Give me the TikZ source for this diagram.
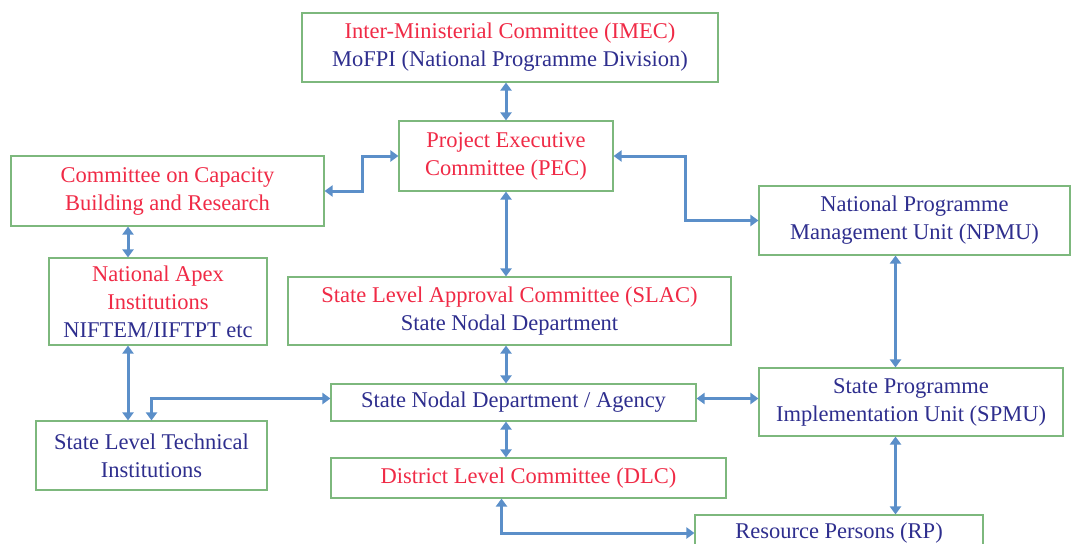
\documentclass[tikz,border=0pt]{standalone}
\usepackage{fontspec}
\setmainfont{Liberation Serif}
\usetikzlibrary{arrows.meta}
\definecolor{boxgreen}{HTML}{7DB87D}
\definecolor{linkblue}{HTML}{5B8FC9}
\definecolor{headred}{HTML}{F02A46}
\definecolor{bodyblue}{HTML}{2E2E8E}
\tikzset{
  unit/.style={draw=boxgreen, line width=1.1pt, fill=white, align=center,
    inner sep=0pt, text=bodyblue, font=\fontsize{22.5}{28}\selectfont},
  link/.style={linkblue, line width=3pt,
    {Triangle[length=8pt,width=11pt]}-{Triangle[length=8pt,width=11pt]}},
}
\newcommand{\hd}[1]{\textcolor{headred}{#1}}

\begin{document}
\begin{tikzpicture}[x=1pt, y=-1pt]
  \useasboundingbox (0,0) rectangle (1075,543);
  \clip (0,0) rectangle (1075,543);

  % national level
  \node [unit, minimum width=416pt, minimum height=69pt] (imec) at (510,47.5)
    {\hd{Inter-Ministerial Committee (IMEC)}\\MoFPI (National Programme Division)};
  \node [unit, minimum width=214pt, minimum height=70pt] (pec) at (506,156)
    {\hd{Project Executive}\\\hd{Committee (PEC)}};
  \node [unit, minimum width=313pt, minimum height=70pt] (ccbr) at (167.5,191)
    {\hd{Committee on Capacity}\\\hd{Building and Research}};
  \node [unit, minimum width=218pt, minimum height=87pt] (apex) at (158,301.5)
    {\hd{National Apex}\\\hd{Institutions}\\NIFTEM/IIFTPT etc};
  \node [unit, minimum width=311pt, minimum height=69pt] (npmu) at (914.5,220.5)
    {National Programme\\Management Unit (NPMU)};

  % state level
  \node [unit, minimum width=443pt, minimum height=68pt] (slac) at (509.5,311)
    {\hd{State Level Approval Committee (SLAC)}\\State Nodal Department};
  \node [unit, minimum width=365pt, minimum height=37pt] (nodal) at (513.5,402.5)
    {State Nodal Department / Agency};
  \node [unit, minimum width=304pt, minimum height=68pt] (spmu) at (911,402)
    {State Programme\\Implementation Unit (SPMU)};
  \node [unit, minimum width=231pt, minimum height=69pt] (slti) at (151.5,455.5)
    {State Level Technical\\Institutions};
  \node [unit, minimum width=395pt, minimum height=40pt] (dlc) at (528.5,478)
    {\hd{District Level Committee (DLC)}};
  \node [unit, minimum width=288pt, minimum height=36pt] (rp) at (839,533)
    {Resource Persons (RP)};

  % links
  \draw [link] (imec.south -| pec.north) -- (pec.north);
  \draw [link] (ccbr.east) -- ++(38,0) |- (pec.west);
  \draw [link] (pec.east) -- ++(72,0) |- (npmu.west);
  \draw [link] (pec.south) -- (pec.south |- slac.north);
  \draw [link] ([xshift=-30pt]apex.north) -- ([xshift=-30pt]apex.north |- ccbr.south);
  \draw [link] ([xshift=-30pt]apex.south) -- ([xshift=-30pt]apex.south |- slti.north);
  \draw [link] ([yshift=4pt]nodal.west) -| (slti.north);
  \draw [link] (pec.south |- slac.south) -- (pec.south |- nodal.north);
  \draw [link] (pec.south |- nodal.south) -- (pec.south |- dlc.north);
  \draw [link] ([xshift=-19pt]npmu.south) -- ([xshift=-19pt]npmu.south |- spmu.north);
  \draw [link] ([yshift=4pt]nodal.east) -- ([yshift=4pt]nodal.east -| spmu.west);
  \draw [link] ([xshift=-19pt]npmu.south |- spmu.south) -- ([xshift=-19pt]npmu.south |- rp.north);
  \draw [link] ([xshift=-27pt]dlc.south) |- (rp.west);
\end{tikzpicture}
\end{document}
